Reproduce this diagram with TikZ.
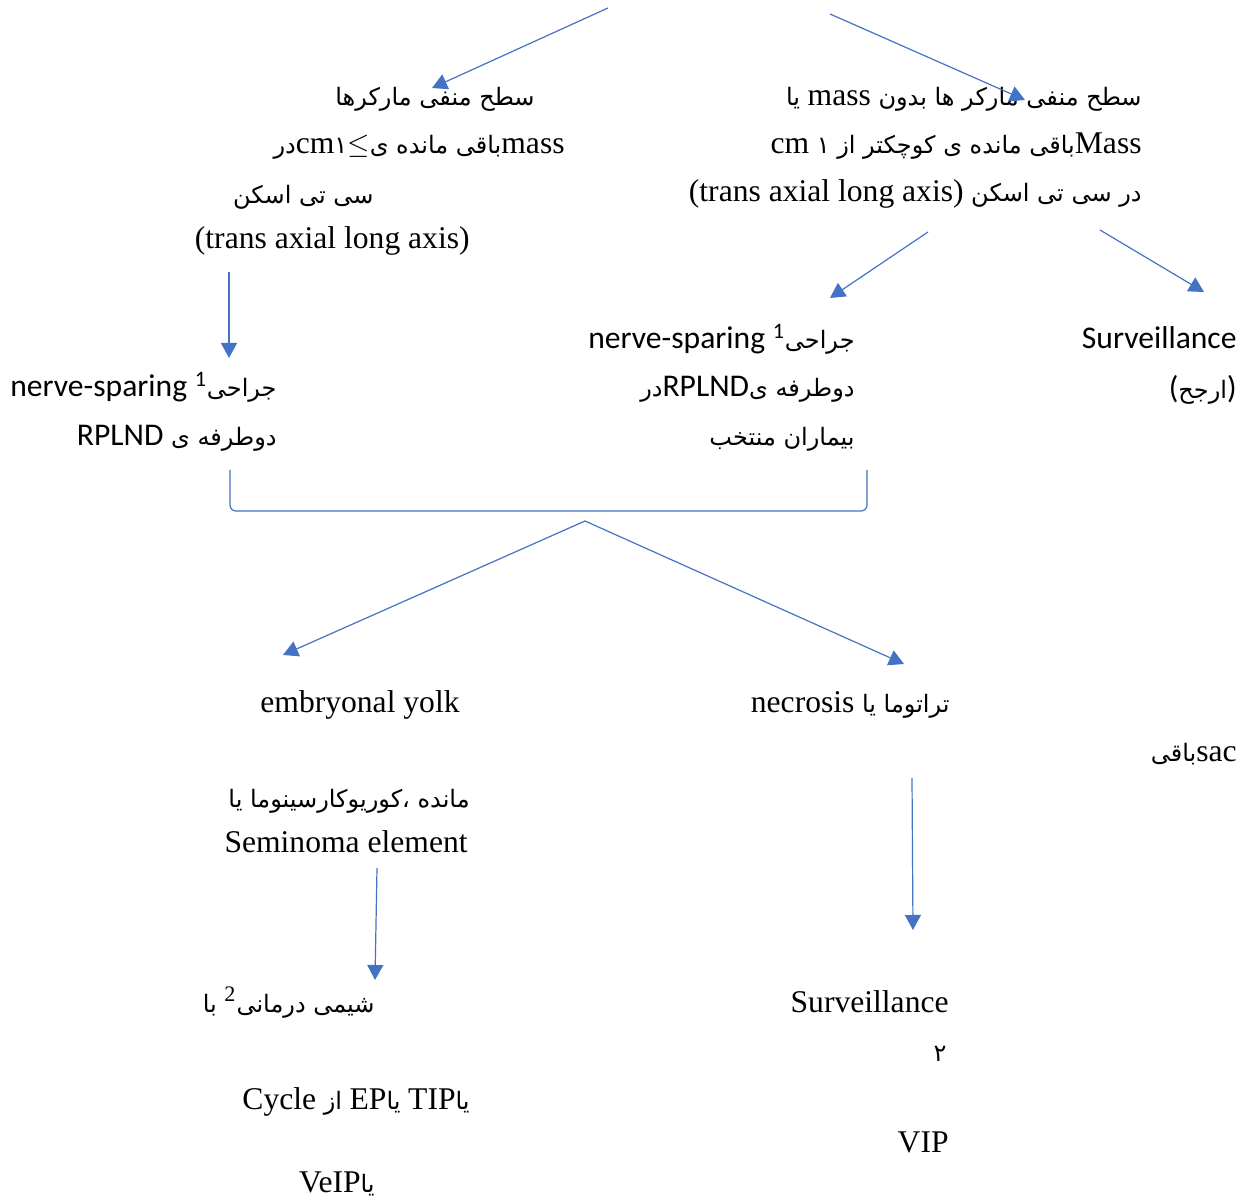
\documentclass[tikz,border=0pt]{standalone}
\usepackage{fontspec}
\setmainfont{Liberation Serif}
\newfontfamily\fafont[Script=Arabic,Scale=0.76]{DejaVu Sans}
\newfontfamily\cbfont{Carlito}
\usetikzlibrary{arrows.meta}
\TeXXeTstate=1
% persian run, latin (serif / sans) pieces inside it
\newcommand{\rtl}[1]{{\fafont\beginR #1\endR}}
\newcommand{\lat}[1]{\beginL{\rmfamily #1}\endL}
\newcommand{\lcb}[1]{\beginL{\cbfont #1}\endL}

\begin{document}
\begin{tikzpicture}[
    x=0.5pt, y=-0.5pt, % one unit = one pixel of the page
    >={Triangle[length=7.5pt,width=8pt]},
    % connector style
    link/.style={->,draw=linkblue,line width=0.6pt},
    % text line styles: serif lines and sans lines
    ser/.style={anchor=base east,inner sep=0pt,font=\fontsize{15.8}{19}\selectfont},
    sns/.style={ser,font=\fontsize{15.8}{19}\selectfont\cbfont}
]
\definecolor{linkblue}{HTML}{4472C4}
\useasboundingbox (0,0) rectangle (1253,1203);

% ==============================
% TOP: two branches
% ==============================
\node[ser] (lt1) at (535,106) {\rtl{سطح منفی مارکرها}};
\node[ser] (lt2) at (565,154) {\rtl{\lat{mass}باقی مانده ی$\leq$۱\lat{cm}در}};
\node[ser] (lt3) at (374,204) {\rtl{سی تی اسکن}};
\node[ser] (lt4) at (470,249) {(trans axial long axis)};

\node[ser] (rt1) at (1142,106) {\rtl{سطح منفی مارکر ها بدون \lat{mass} یا}};
\node[ser] (rt2) at (1142,154) {\rtl{\lat{Mass}باقی مانده ی کوچکتر از ۱ \lat{cm}}};
\node[ser] (rt3) at (1142,202) {\rtl{در سی تی اسکن \lat{(trans axial long axis)}}};

\coordinate (tA) at (608,8);    \coordinate (tAe) at (432,88);
\coordinate (tB) at (830,14);   \coordinate (tBe) at (1025,100);
\draw[link] (tA) -- (tAe);
\draw[link] (tB) -- (tBe);

% ==============================
% SURGERY / SURVEILLANCE ROW
% ==============================
\node[sns] (sl1) at (277,397) {\rtl{جراحی\textsuperscript{\cbfont 1} \lcb{nerve-sparing}}};
\node[sns] (sl2) at (277,446) {\rtl{دوطرفه ی \lcb{RPLND}}};

\node[sns] (sm1) at (855,349) {\rtl{جراحی\textsuperscript{\cbfont 1} \lcb{nerve-sparing}}};
\node[sns] (sm2) at (855,397) {\rtl{دوطرفه ی\lcb{RPLND}در}};
\node[sns] (sm3) at (855,446) {\rtl{بیماران منتخب}};

\node[sns] (sv1) at (1237,349) {Surveillance};
\node[sns] (sv2) at (1237,399) {(\rtl{ارجح})};

\coordinate (dL) at (229,272);  \coordinate (dLe) at (229,358);
\coordinate (dM) at (928,232);  \coordinate (dMe) at (830,298);
\coordinate (dR) at (1100,230); \coordinate (dRe) at (1204,292);
\draw[link] (dL) -- (dLe);
\draw[link] (dM) -- (dMe);
\draw[link] (dR) -- (dRe);

% bracket joining both surgery branches
\coordinate (brL) at (230,470);
\coordinate (brR) at (867,470);
\coordinate (brC) at (585,511);
\draw[draw=linkblue,line width=0.6pt,rounded corners=3pt] (brL) |- (brC) -| (brR);

% ==============================
% PATHOLOGY ROW
% ==============================
\coordinate (pT) at (585,521);
\coordinate (pL) at (283,655);
\coordinate (pR) at (904,664);
\draw[link] (pT) -- (pL);
\draw[link] (pT) -- (pR);

\node[ser] (em1) at (460,712) {embryonal yolk};
\node[ser] (sac) at (1237,761) {\rtl{\lat{sac}باقی}};
\node[ser] (em2) at (470,807) {\rtl{مانده ،کوریوکارسینوما یا}};
\node[ser] (em3) at (468,852) {Seminoma element};

\node[ser] (nec) at (950,712) {\rtl{تراتوما یا \lat{necrosis}}};

\coordinate (cL) at (377,868);  \coordinate (cLe) at (375,980);
\coordinate (cR) at (912,778);  \coordinate (cRe) at (913,930);
\draw[link] (cL) -- (cLe);
\draw[link] (cR) -- (cRe);

% ==============================
% TREATMENT ROW
% ==============================
\node[ser] (ch1) at (375,1012) {\rtl{شیمی درمانی\textsuperscript{\rmfamily 2} با}};
\node[ser] (ch2) at (470,1109) {\rtl{یا\lat{TIP} یا\lat{EP} از \lat{Cycle}}};
\node[ser] (ch3) at (375,1192) {\rtl{یا\lat{VeIP}}};

\node[ser] (sv3) at (949,1012) {Surveillance};
\node[ser] (sv4) at (947,1061) {\rtl{۲}};
\node[ser] (vip) at (949,1152) {VIP};
\end{tikzpicture}
\end{document}
